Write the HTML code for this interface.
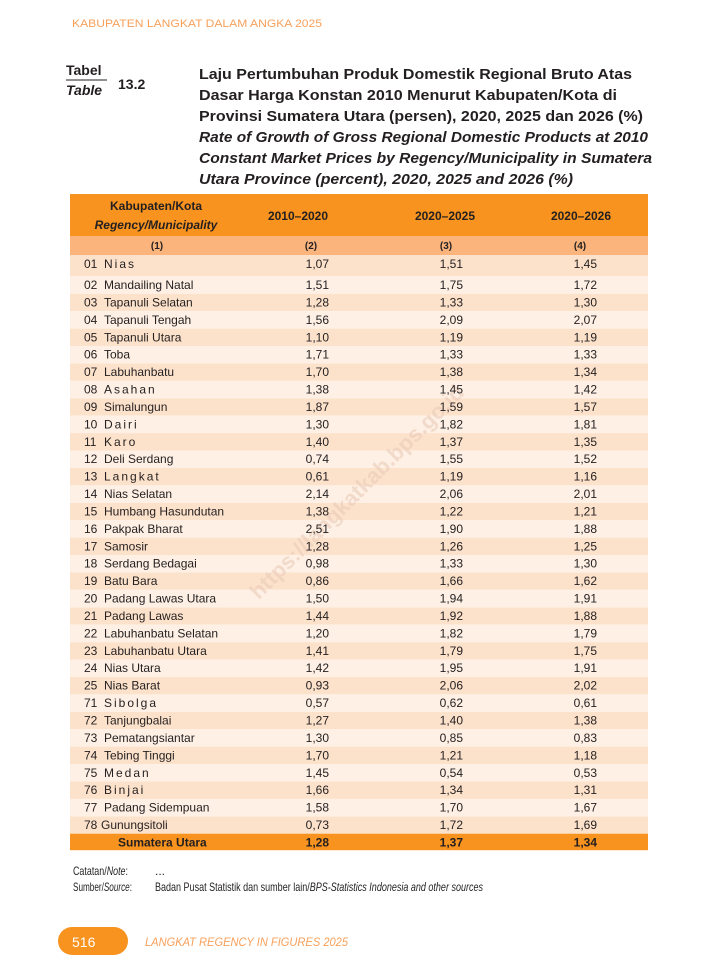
<!DOCTYPE html>
<html><head><meta charset="utf-8"><style>
body{margin:0;background:#fff;}
svg{display:block}
.t{font-family:"Liberation Sans Narrow","Liberation Sans",sans-serif;font-size:12px;fill:#231f20}
</style></head><body>
<svg width="720" height="980" viewBox="0 0 720 980" xmlns="http://www.w3.org/2000/svg">
<text x="72" y="27" font-family="Liberation Sans,sans-serif" font-size="11" fill="#f7a05a" textLength="250" lengthAdjust="spacingAndGlyphs">KABUPATEN LANGKAT DALAM ANGKA 2025</text>
<g font-family="Liberation Sans,sans-serif" font-weight="bold" fill="#231f20">
<text x="66" y="75" font-size="14">Tabel</text>
<line x1="66" y1="80" x2="107" y2="80" stroke="#231f20" stroke-width="1"/>
<text x="66" y="95" font-size="14" font-style="italic">Table</text>
<text x="118" y="89" font-size="14">13.2</text>
<g font-size="15">
<text x="199" y="79" textLength="433" lengthAdjust="spacingAndGlyphs">Laju Pertumbuhan Produk Domestik Regional Bruto Atas</text>
<text x="199" y="100" textLength="418" lengthAdjust="spacingAndGlyphs">Dasar Harga Konstan 2010 Menurut Kabupaten/Kota di</text>
<text x="199" y="121" textLength="444" lengthAdjust="spacingAndGlyphs">Provinsi Sumatera Utara (persen), 2020, 2025 dan 2026 (%)</text>
<g font-style="italic">
<text x="199" y="142" textLength="449" lengthAdjust="spacingAndGlyphs">Rate of Growth of Gross Regional Domestic Products at 2010</text>
<text x="199" y="163" textLength="453" lengthAdjust="spacingAndGlyphs">Constant Market Prices by Regency/Municipality in Sumatera</text>
<text x="199" y="184" textLength="374" lengthAdjust="spacingAndGlyphs">Utara Province (percent), 2020, 2025 and 2026 (%)</text>
</g></g></g>

<rect x="70" y="194" width="578" height="42" fill="#f7931e"/>
<rect x="70" y="236" width="578" height="19" fill="#fbb47c"/>
<rect x="70" y="255" width="578" height="21.3" fill="#fde2cb"/>
<g fill="#fde2cb">
<rect x="70" y="293.7" width="578" height="17.42"/><rect x="70" y="328.6" width="578" height="17.42"/><rect x="70" y="363.4" width="578" height="17.42"/><rect x="70" y="398.2" width="578" height="17.42"/><rect x="70" y="433.1" width="578" height="17.42"/><rect x="70" y="467.9" width="578" height="17.42"/><rect x="70" y="502.8" width="578" height="17.42"/><rect x="70" y="537.6" width="578" height="17.42"/><rect x="70" y="572.4" width="578" height="17.42"/><rect x="70" y="607.3" width="578" height="17.42"/><rect x="70" y="642.1" width="578" height="17.42"/><rect x="70" y="677.0" width="578" height="17.42"/><rect x="70" y="711.8" width="578" height="17.42"/><rect x="70" y="746.6" width="578" height="17.42"/><rect x="70" y="781.5" width="578" height="17.42"/><rect x="70" y="816.3" width="578" height="17.42"/>
</g>
<g fill="#fef0e4">
<rect x="70" y="276.3" width="578" height="17.42"/><rect x="70" y="311.1" width="578" height="17.42"/><rect x="70" y="346.0" width="578" height="17.42"/><rect x="70" y="380.8" width="578" height="17.42"/><rect x="70" y="415.6" width="578" height="17.42"/><rect x="70" y="450.5" width="578" height="17.42"/><rect x="70" y="485.3" width="578" height="17.42"/><rect x="70" y="520.2" width="578" height="17.42"/><rect x="70" y="555.0" width="578" height="17.42"/><rect x="70" y="589.8" width="578" height="17.42"/><rect x="70" y="624.7" width="578" height="17.42"/><rect x="70" y="659.5" width="578" height="17.42"/><rect x="70" y="694.4" width="578" height="17.42"/><rect x="70" y="729.2" width="578" height="17.42"/><rect x="70" y="764.0" width="578" height="17.42"/><rect x="70" y="798.9" width="578" height="17.42"/>
</g>
<rect x="70" y="833.7" width="578" height="16.5" fill="#f7931e"/>

<text x="355" y="500" transform="rotate(-45 355 490)" text-anchor="middle" font-family="Liberation Sans,sans-serif" font-weight="bold" font-size="22" fill="#e9c9b8" opacity="0.55">https://langkatkab.bps.go.id</text>

<g class="t" font-weight="bold" text-anchor="middle">
<text x="156" y="210">Kabupaten/Kota</text>
<text x="156" y="229" font-style="italic">Regency/Municipality</text>
<text x="298" y="220">2010–2020</text>
<text x="445" y="220">2020–2025</text>
<text x="581" y="220">2020–2026</text>
<g font-size="10"><text x="157" y="249">(1)</text><text x="311" y="249">(2)</text><text x="446" y="249">(3)</text><text x="580" y="249">(4)</text></g>
</g>

<g class="t">
<text x="84" y="268">01</text><text x="104" y="268" letter-spacing="2">Nias</text>
<text x="84" y="289">02</text><text x="104" y="289">Mandailing Natal</text>
<text x="84" y="306.4">03</text><text x="104" y="306.4">Tapanuli Selatan</text>
<text x="84" y="323.8">04</text><text x="104" y="323.8">Tapanuli Tengah</text>
<text x="84" y="341.3">05</text><text x="104" y="341.3">Tapanuli Utara</text>
<text x="84" y="358.7">06</text><text x="104" y="358.7">Toba</text>
<text x="84" y="376.1">07</text><text x="104" y="376.1">Labuhanbatu</text>
<text x="84" y="393.5">08</text><text x="104" y="393.5" letter-spacing="2">Asahan</text>
<text x="84" y="410.9">09</text><text x="104" y="410.9">Simalungun</text>
<text x="84" y="428.4">10</text><text x="104" y="428.4" letter-spacing="2">Dairi</text>
<text x="84" y="445.8">11</text><text x="104" y="445.8" letter-spacing="2">Karo</text>
<text x="84" y="463.2">12</text><text x="104" y="463.2">Deli Serdang</text>
<text x="84" y="480.6">13</text><text x="104" y="480.6" letter-spacing="2">Langkat</text>
<text x="84" y="498.0">14</text><text x="104" y="498.0">Nias Selatan</text>
<text x="84" y="515.5">15</text><text x="104" y="515.5">Humbang Hasundutan</text>
<text x="84" y="532.9">16</text><text x="104" y="532.9">Pakpak Bharat</text>
<text x="84" y="550.3">17</text><text x="104" y="550.3">Samosir</text>
<text x="84" y="567.7">18</text><text x="104" y="567.7">Serdang Bedagai</text>
<text x="84" y="585.1">19</text><text x="104" y="585.1">Batu Bara</text>
<text x="84" y="602.6">20</text><text x="104" y="602.6">Padang Lawas Utara</text>
<text x="84" y="620.0">21</text><text x="104" y="620.0">Padang Lawas</text>
<text x="84" y="637.4">22</text><text x="104" y="637.4">Labuhanbatu Selatan</text>
<text x="84" y="654.8">23</text><text x="104" y="654.8">Labuhanbatu Utara</text>
<text x="84" y="672.2">24</text><text x="104" y="672.2">Nias Utara</text>
<text x="84" y="689.7">25</text><text x="104" y="689.7">Nias Barat</text>
<text x="84" y="707.1">71</text><text x="104" y="707.1" letter-spacing="2">Sibolga</text>
<text x="84" y="724.5">72</text><text x="104" y="724.5">Tanjungbalai</text>
<text x="84" y="741.9">73</text><text x="104" y="741.9">Pematangsiantar</text>
<text x="84" y="759.3">74</text><text x="104" y="759.3">Tebing Tinggi</text>
<text x="84" y="776.8">75</text><text x="104" y="776.8" letter-spacing="2">Medan</text>
<text x="84" y="794.2">76</text><text x="104" y="794.2" letter-spacing="2">Binjai</text>
<text x="84" y="811.6">77</text><text x="104" y="811.6">Padang Sidempuan</text>
<text x="84" y="829.0">78</text><text x="101" y="829.0">Gunungsitoli</text>
<text x="118" y="846.5" font-weight="bold">Sumatera Utara</text>
</g>

<g class="t" text-anchor="end">
<g>
<text x="329" y="268">1,07</text><text x="329" y="289">1,51</text><text x="329" y="306.4">1,28</text><text x="329" y="323.8">1,56</text><text x="329" y="341.3">1,10</text><text x="329" y="358.7">1,71</text><text x="329" y="376.1">1,70</text><text x="329" y="393.5">1,38</text><text x="329" y="410.9">1,87</text><text x="329" y="428.4">1,30</text><text x="329" y="445.8">1,40</text><text x="329" y="463.2">0,74</text><text x="329" y="480.6">0,61</text><text x="329" y="498.0">2,14</text><text x="329" y="515.5">1,38</text><text x="329" y="532.9">2,51</text><text x="329" y="550.3">1,28</text><text x="329" y="567.7">0,98</text><text x="329" y="585.1">0,86</text><text x="329" y="602.6">1,50</text><text x="329" y="620.0">1,44</text><text x="329" y="637.4">1,20</text><text x="329" y="654.8">1,41</text><text x="329" y="672.2">1,42</text><text x="329" y="689.7">0,93</text><text x="329" y="707.1">0,57</text><text x="329" y="724.5">1,27</text><text x="329" y="741.9">1,30</text><text x="329" y="759.3">1,70</text><text x="329" y="776.8">1,45</text><text x="329" y="794.2">1,66</text><text x="329" y="811.6">1,58</text><text x="329" y="829.0">0,73</text><text x="329" y="846.5" font-weight="bold">1,28</text>
</g>
<g>
<text x="463" y="268">1,51</text><text x="463" y="289">1,75</text><text x="463" y="306.4">1,33</text><text x="463" y="323.8">2,09</text><text x="463" y="341.3">1,19</text><text x="463" y="358.7">1,33</text><text x="463" y="376.1">1,38</text><text x="463" y="393.5">1,45</text><text x="463" y="410.9">1,59</text><text x="463" y="428.4">1,82</text><text x="463" y="445.8">1,37</text><text x="463" y="463.2">1,55</text><text x="463" y="480.6">1,19</text><text x="463" y="498.0">2,06</text><text x="463" y="515.5">1,22</text><text x="463" y="532.9">1,90</text><text x="463" y="550.3">1,26</text><text x="463" y="567.7">1,33</text><text x="463" y="585.1">1,66</text><text x="463" y="602.6">1,94</text><text x="463" y="620.0">1,92</text><text x="463" y="637.4">1,82</text><text x="463" y="654.8">1,79</text><text x="463" y="672.2">1,95</text><text x="463" y="689.7">2,06</text><text x="463" y="707.1">0,62</text><text x="463" y="724.5">1,40</text><text x="463" y="741.9">0,85</text><text x="463" y="759.3">1,21</text><text x="463" y="776.8">0,54</text><text x="463" y="794.2">1,34</text><text x="463" y="811.6">1,70</text><text x="463" y="829.0">1,72</text><text x="463" y="846.5" font-weight="bold">1,37</text>
</g>
<g>
<text x="597" y="268">1,45</text><text x="597" y="289">1,72</text><text x="597" y="306.4">1,30</text><text x="597" y="323.8">2,07</text><text x="597" y="341.3">1,19</text><text x="597" y="358.7">1,33</text><text x="597" y="376.1">1,34</text><text x="597" y="393.5">1,42</text><text x="597" y="410.9">1,57</text><text x="597" y="428.4">1,81</text><text x="597" y="445.8">1,35</text><text x="597" y="463.2">1,52</text><text x="597" y="480.6">1,16</text><text x="597" y="498.0">2,01</text><text x="597" y="515.5">1,21</text><text x="597" y="532.9">1,88</text><text x="597" y="550.3">1,25</text><text x="597" y="567.7">1,30</text><text x="597" y="585.1">1,62</text><text x="597" y="602.6">1,91</text><text x="597" y="620.0">1,88</text><text x="597" y="637.4">1,79</text><text x="597" y="654.8">1,75</text><text x="597" y="672.2">1,91</text><text x="597" y="689.7">2,02</text><text x="597" y="707.1">0,61</text><text x="597" y="724.5">1,38</text><text x="597" y="741.9">0,83</text><text x="597" y="759.3">1,18</text><text x="597" y="776.8">0,53</text><text x="597" y="794.2">1,31</text><text x="597" y="811.6">1,67</text><text x="597" y="829.0">1,69</text><text x="597" y="846.5" font-weight="bold">1,34</text>
</g>
</g>

<g class="t" font-size="10">
<text x="73" y="875" textLength="55" lengthAdjust="spacingAndGlyphs">Catatan/<tspan font-style="italic">Note</tspan>:</text>
<text x="155" y="875">...</text>
<text x="73" y="891" textLength="59" lengthAdjust="spacingAndGlyphs">Sumber/<tspan font-style="italic">Source</tspan>:</text>
<text x="155" y="891" textLength="328" lengthAdjust="spacingAndGlyphs">Badan Pusat Statistik dan sumber lain/<tspan font-style="italic">BPS-Statistics Indonesia and other sources</tspan></text>
</g>

<rect x="58" y="927" width="70" height="28" rx="14" fill="#f7931e"/>
<text x="72" y="947" font-family="Liberation Sans,sans-serif" font-size="14" fill="#fff">516</text>
<text x="145" y="946" font-family="Liberation Sans,sans-serif" font-size="11.5" font-style="italic" fill="#f7a05a" textLength="203" lengthAdjust="spacingAndGlyphs">LANGKAT REGENCY IN FIGURES 2025</text>
</svg>
</body></html>
